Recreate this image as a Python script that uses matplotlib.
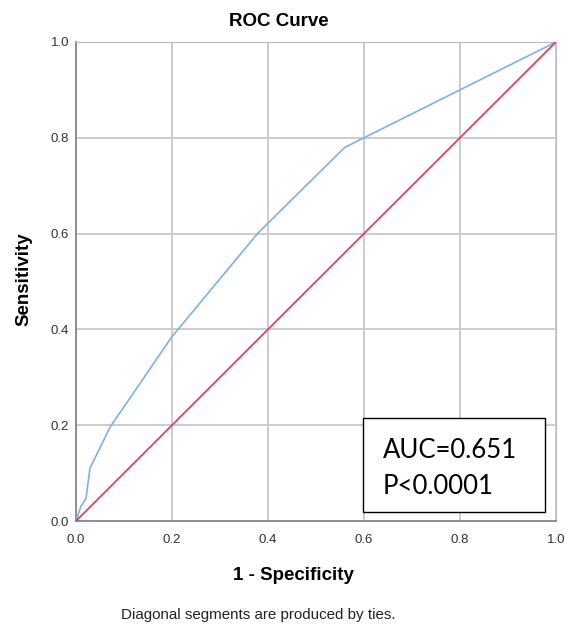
import matplotlib.pyplot as plt
from matplotlib.patches import Rectangle

# puntos de la curva ROC
fpr = [0.0, 0.010, 0.021, 0.029, 0.071, 0.200, 0.379, 0.560, 1.0]
tpr = [0.0, 0.030, 0.048, 0.110, 0.196, 0.385, 0.601, 0.780, 1.0]
ref_x = [0.0, 1.0]
ref_y = [0.0, 1.0]
ticks = [0.0, 0.2, 0.4, 0.6, 0.8, 1.0]
tick_labels = ['0.0', '0.2', '0.4', '0.6', '0.8', '1.0']

plt.rcParams['font.family'] = ['Liberation Sans', 'DejaVu Sans']

fig = plt.figure(figsize=(5.65, 6.24), dpi=100)
ax = fig.add_axes([0.1345, 0.165, 0.8495, 0.7677])

ax.plot(fpr, tpr, color='#80b1e2', lw=1.2, zorder=3)
ax.plot(ref_x, ref_y, color='#d2466a', lw=1.3, zorder=3)

ax.set_xlim(0, 1)
ax.set_ylim(0, 1)
ax.set_xticks(ticks)
ax.set_yticks(ticks)
ax.set_xticklabels(tick_labels)
ax.set_yticklabels(tick_labels)
ax.tick_params(length=0, labelsize=9.5, labelcolor='#333333')
ax.tick_params(axis='x', pad=9)
ax.tick_params(axis='y', pad=5)
ax.grid(True, color='#cccccc', lw=1.4)
ax.set_axisbelow(True)
for lado in ['top', 'right']:
    ax.spines[lado].set_color('#bbbbbb')
for lado in ['left', 'bottom']:
    ax.spines[lado].set_color('#888888')
    ax.spines[lado].set_linewidth(1.3)

# textos (título y ejes) en coordenadas de la figura
fig.text(0.494, 0.965, 'ROC Curve', fontsize=13.5, fontweight='bold', ha='center', va='center')
fig.text(0.043, 0.553, 'Sensitivity', fontsize=13.5, fontweight='bold', rotation=90,
         ha='center', va='center')
fig.text(0.5186, 0.0785, '1 - Specificity', fontsize=13.5, fontweight='bold',
         ha='center', va='center')

# recuadro con el AUC
ax.add_patch(Rectangle((0.598, 0.019), 0.379, 0.196, transform=ax.transAxes,
                       facecolor='white', edgecolor='black', lw=1, zorder=5))
ax.text(0.639, 0.148, 'AUC=0.651', transform=ax.transAxes, fontsize=18.5,
        family=['Lato', 'DejaVu Sans'], va='center', zorder=6)
ax.text(0.639, 0.072, 'P<0.0001', transform=ax.transAxes, fontsize=18.5,
        family=['Lato', 'DejaVu Sans'], va='center', zorder=6)

fig.text(0.4566, 0.0144, 'Diagonal segments are produced by ties.', fontsize=10.9,
         ha='center', va='center', color='#222222')

fig.savefig('out.png', dpi=100)
